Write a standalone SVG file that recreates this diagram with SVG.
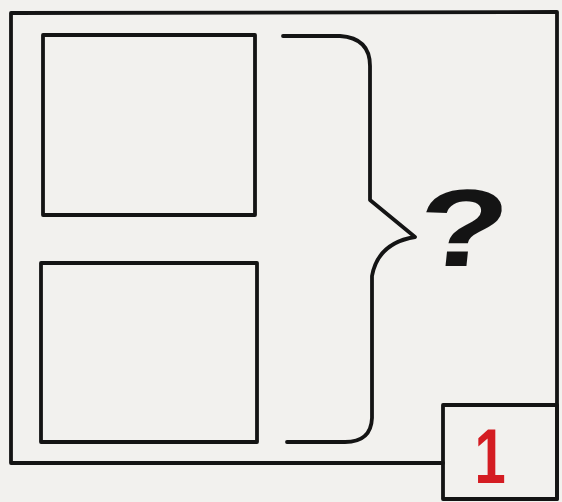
<svg xmlns="http://www.w3.org/2000/svg" width="562" height="502" viewBox="0 0 562 502">
<style>
.ln{fill:none;stroke:#141414;stroke-width:3.8;stroke-linejoin:round;stroke-linecap:round}
.q{font-family:"Liberation Sans",Arial,sans-serif;font-weight:bold;fill:#141414}
.n{font-family:"Liberation Sans",Arial,sans-serif;font-weight:bold;fill:#d41c22}
</style>
<rect x="0" y="0" width="562" height="502" fill="#f2f1ee"/>
<g id="frame">
<path class="ln" d="M443,463 L11,463 L11,13 L557,12 L557,499"/>
</g>
<g id="box-top">
<rect class="ln" x="43" y="35" width="212" height="180"/>
</g>
<g id="box-bottom">
<rect class="ln" x="41" y="263" width="216" height="179"/>
</g>
<g id="connectors">
<path class="ln" d="M283,36 L340,36 Q370,38 370,66 L370,200 L415,237 Q378,243 372,276 L372,418 Q371,442 345,442 L287,442"/>
</g>
<g id="question">
<text class="q" transform="translate(459,266) skewX(-6) scale(1.35,1)" font-size="110" text-anchor="middle">?</text>
</g>
<g id="label-1">
<rect class="ln" x="443" y="405" width="114" height="94"/>
<text class="n" transform="translate(490,483) scale(0.72,1)" font-size="78" text-anchor="middle">1</text>
</g>
</svg>
